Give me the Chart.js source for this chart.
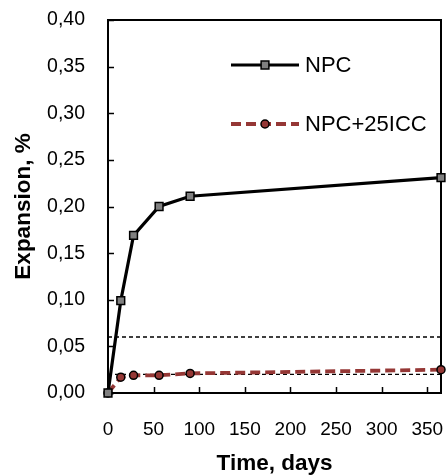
<!DOCTYPE html>
<html><head><meta charset="utf-8">
<script src="https://cdn.jsdelivr.net/npm/chart.js@4.4.1/dist/chart.umd.min.js"></script>
<style>html,body{margin:0;padding:0;background:#fff;}canvas{display:block;}</style>
</head><body>
<canvas id="c" width="448" height="475"></canvas>
<script>
const days = [0, 14, 28, 56, 90, 365];
const npc = [0, 0.099, 0.169, 0.200, 0.211, 0.231];
const npc25icc = [0, 0.017, 0.019, 0.019, 0.021, 0.025];
const limitLevels = [0.06, 0.02];
const xRange = [0, 365];
const xTicks = [0, 50, 100, 150, 200, 250, 300, 350];
const yTicks = [0, 0.05, 0.10, 0.15, 0.20, 0.25, 0.30, 0.35, 0.40];
const seriesNames = ['NPC', 'NPC+25ICC'];

const FAMILY = 'Arial, "Liberation Sans", sans-serif';
const RED = '#953735';

const framePlugin = {
  id: 'frame',
  beforeDatasetsDraw(chart) {
    const {ctx, chartArea: a, scales: {x, y}} = chart;
    ctx.save();
    ctx.strokeStyle = '#000';
    ctx.lineWidth = 2;
    ctx.strokeRect(a.left, a.top, a.right - a.left, a.bottom - a.top);
    ctx.lineWidth = 1.5;
    ctx.beginPath();
    yTicks.forEach(v => { const py = Math.round(y.getPixelForValue(v)) + 0.5; ctx.moveTo(a.left, py); ctx.lineTo(a.left + 6, py); });
    xTicks.forEach(v => { const px = Math.round(x.getPixelForValue(v)) + 0.5; ctx.moveTo(px, a.bottom); ctx.lineTo(px, a.bottom - 6); });
    ctx.stroke();
    ctx.restore();
  }
};

const legendPlugin = {
  id: 'insideLegend',
  afterDraw(chart) {
    const {ctx, chartArea: a} = chart;
    const x0 = a.left + 123, x1 = a.left + 191, tx = a.left + 197;
    const rows = [a.top + 45, a.top + 104];
    ctx.save();
    [0, 1].forEach(i => {
      const ds = chart.data.datasets[i];
      const yy = rows[i];
      ctx.strokeStyle = ds.borderColor;
      ctx.lineWidth = ds.borderWidth;
      ctx.setLineDash(ds.borderDash || []);
      ctx.beginPath(); ctx.moveTo(x0, yy); ctx.lineTo(x1, yy); ctx.stroke();
      ctx.setLineDash([]);
      ctx.fillStyle = ds.pointBackgroundColor;
      ctx.strokeStyle = ds.pointBorderColor;
      ctx.lineWidth = ds.pointBorderWidth;
      Chart.helpers.drawPoint(ctx, {pointStyle: ds.pointStyle, radius: ds.pointRadius, rotation: 0, borderWidth: ds.pointBorderWidth}, (x0 + x1) / 2, yy);
      ctx.fillStyle = '#000';
      ctx.font = '22px ' + FAMILY;
      ctx.textAlign = 'left';
      ctx.textBaseline = 'middle';
      ctx.fillText(seriesNames[i], tx, yy + 1);
    });
    ctx.restore();
  }
};

const toPts = (xs, ys) => xs.map((d, i) => ({x: d, y: ys[i]}));
const zeroPad = s => { s.paddingTop = 0; s.paddingBottom = 0; s.paddingLeft = 0; s.paddingRight = 0; };

new Chart(document.getElementById('c'), {
  type: 'line',
  data: {
    datasets: [
      {label: seriesNames[0], data: toPts(days, npc), borderColor: '#000', borderWidth: 3.2,
       pointStyle: 'rect', pointRadius: 5.5, pointBackgroundColor: '#808080', pointBorderColor: '#000',
       pointBorderWidth: 1.5, order: 1, tension: 0, clip: false},
      {label: seriesNames[1], data: toPts(days, npc25icc), borderColor: RED, borderWidth: 3.8, borderDash: [10, 5],
       pointStyle: 'circle', pointRadius: 4, pointBackgroundColor: RED, pointBorderColor: '#000',
       pointBorderWidth: 1.5, order: 2, tension: 0, clip: false},
      {label: 'limit1', data: toPts(xRange, [limitLevels[0], limitLevels[0]]), borderColor: '#000', borderWidth: 1.4,
       borderDash: [4, 3], pointRadius: 0, order: 3},
      {label: 'limit2', data: toPts(xRange, [limitLevels[1], limitLevels[1]]), borderColor: '#000', borderWidth: 1.4,
       borderDash: [4, 3], pointRadius: 0, order: 3}
    ]
  },
  options: {
    responsive: false, animation: false, devicePixelRatio: 1,
    layout: {padding: {top: 20, right: 6, left: 0, bottom: 0}},
    plugins: {legend: {display: false}, tooltip: {enabled: false}},
    scales: {
      x: {
        type: 'linear', min: xRange[0], max: xRange[1],
        afterBuildTicks: s => { s.ticks = xTicks.map(v => ({value: v})); },
        afterFit: s => { s.height = 82; zeroPad(s); },
        grid: {display: false, drawTicks: true, tickLength: 25}, border: {display: false},
        ticks: {padding: 0, color: '#000', font: {family: FAMILY, size: 19}, autoSkip: false, maxRotation: 0,
                callback: v => String(v)},
        title: {display: true, text: 'Time, days', color: '#000',
                font: {family: FAMILY, size: 22.5, weight: 'bold', lineHeight: 1}, padding: {top: 0, bottom: 0}}
      },
      y: {
        type: 'linear', min: 0, max: 0.4,
        afterBuildTicks: s => { s.ticks = yTicks.map(v => ({value: v})); },
        afterFit: s => { s.width = 108; zeroPad(s); },
        grid: {display: false, drawTicks: true, tickLength: 23}, border: {display: false},
        ticks: {padding: 0, color: '#000', font: {family: FAMILY, size: 19.5},
                callback: v => Number(v).toFixed(2).replace('.', ',')},
        title: {display: true, text: 'Expansion, %', color: '#000',
                font: {family: FAMILY, size: 22.5, weight: 'bold', lineHeight: 1.2}, padding: {top: 10, bottom: 0}}
      }
    }
  },
  plugins: [framePlugin, legendPlugin]
});
</script>
</body></html>
